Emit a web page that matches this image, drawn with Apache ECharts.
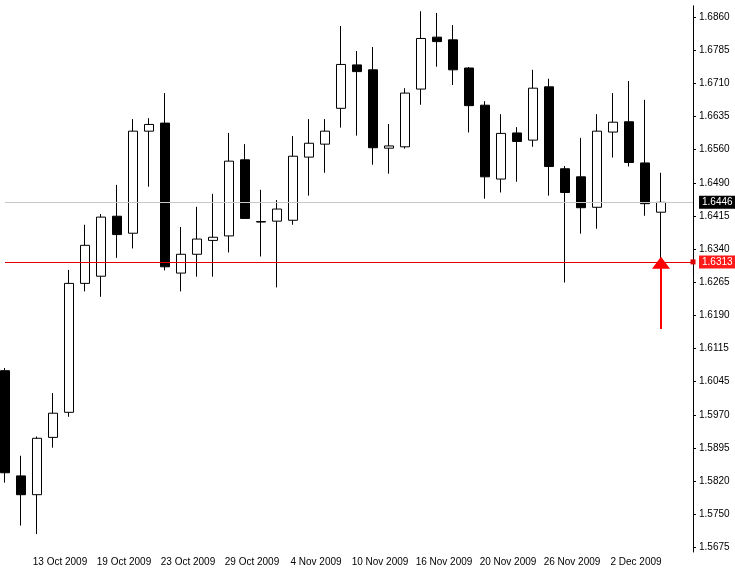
<!DOCTYPE html>
<html><head><meta charset="utf-8">
<script src="https://cdn.jsdelivr.net/npm/echarts@6/dist/echarts.min.js"></script>
<style>html,body{margin:0;padding:0;background:#fff}#c{width:735px;height:571px}</style>
</head><body><div id="c"></div>
<script>
const dates = ['8 Oct 2009','9 Oct 2009','12 Oct 2009','13 Oct 2009','14 Oct 2009','15 Oct 2009','16 Oct 2009','19 Oct 2009','20 Oct 2009','21 Oct 2009','22 Oct 2009','23 Oct 2009','26 Oct 2009','27 Oct 2009','28 Oct 2009','29 Oct 2009','30 Oct 2009','2 Nov 2009','3 Nov 2009','4 Nov 2009','5 Nov 2009','6 Nov 2009','9 Nov 2009','10 Nov 2009','11 Nov 2009','12 Nov 2009','13 Nov 2009','16 Nov 2009','17 Nov 2009','18 Nov 2009','19 Nov 2009','20 Nov 2009','23 Nov 2009','24 Nov 2009','25 Nov 2009','26 Nov 2009','27 Nov 2009','30 Nov 2009','1 Dec 2009','2 Dec 2009','3 Dec 2009','4 Dec 2009','',' '];
const opens  = [1.6070,1.5835,1.5793,1.5921,1.5977,1.6265,1.6281,1.6415,1.6377,1.6605,1.6623,1.6288,1.6330,1.6361,1.6371,1.6541,1.6403,1.6404,1.6406,1.6547,1.6576,1.6656,1.6753,1.6742,1.6567,1.6570,1.6699,1.6815,1.6809,1.6746,1.6663,1.6498,1.6601,1.6585,1.6704,1.6521,1.6503,1.6435,1.6603,1.6626,1.6534,1.6424];
const closes = [1.5842,1.5793,1.5919,1.5975,1.6265,1.6350,1.6413,1.6374,1.6605,1.6620,1.6302,1.6330,1.6364,1.6368,1.6538,1.6410,1.6402,1.6431,1.6549,1.6578,1.6605,1.6754,1.6738,1.6568,1.6572,1.6690,1.6812,1.6805,1.6742,1.6662,1.6503,1.6600,1.6582,1.6701,1.6526,1.6468,1.6434,1.6605,1.6625,1.6535,1.6443,1.6446];
const lows   = [1.5820,1.5724,1.5705,1.5898,1.5967,1.6247,1.6235,1.6322,1.6343,1.6481,1.6294,1.6247,1.6280,1.6280,1.6334,1.6410,1.6325,1.6256,1.6396,1.6461,1.6512,1.6613,1.6595,1.6530,1.6510,1.6566,1.6664,1.6749,1.6708,1.6602,1.6454,1.6468,1.6492,1.6570,1.6461,1.6267,1.6376,1.6387,1.6546,1.6526,1.6416,1.6313];
const highs  = [1.6076,1.5880,1.5923,1.6020,1.6295,1.6396,1.6420,1.6485,1.6632,1.6634,1.6690,1.6391,1.6436,1.6465,1.6601,1.6576,1.6474,1.6451,1.6594,1.6632,1.6632,1.6840,1.6784,1.6793,1.6621,1.6701,1.6873,1.6869,1.6842,1.6748,1.6672,1.6643,1.6614,1.6742,1.6722,1.6527,1.6590,1.6643,1.6690,1.6717,1.6675,1.6512];
const tickLabels = ['1.5675','1.5750','1.5820','1.5895','1.5970','1.6045','1.6115','1.6190','1.6265','1.6340','1.6415','1.6490','1.6560','1.6635','1.6710','1.6785','1.6860'];
const bidPrice = 1.6446, lowPrice = 1.6313, arrowFrom = 1.6163;

const tickMin = +tickLabels[0], tickMax = +tickLabels[tickLabels.length-1];
const step = (tickMax - tickMin) / (tickLabels.length - 1);
const tickPos = tickLabels.map((_, i) => tickMin + i * step);
const candles = opens.map((o, i) => [o, closes[i], lows[i], highs[i]]);
const FONT = 'Liberation Sans';
const first = dates[0], last = dates[dates.length - 1];
const tagLabel = (txt, bg) => ({show: true, position: 'end', formatter: txt, color: '#fff', backgroundColor: bg, padding: [2,3,1,3], fontFamily: FONT, fontSize: 10, distance: 6});
const hLine = (v, color, bg, endSym) => [
  {coord: [first, v], symbol: 'none', lineStyle: {color: color, width: 1, type: 'solid'}, label: tagLabel(v.toFixed(4), bg)},
  {coord: [last, v], symbol: endSym, symbolSize: 5}
];

const chart = echarts.init(document.getElementById('c'));
chart.setOption({
  animation: false,
  grid: {left: 5, right: 42, top: 5.8, bottom: 19},
  xAxis: {
    type: 'category', data: dates, boundaryGap: false,
    axisLine: {show: false}, axisTick: {show: false}, splitLine: {show: false},
    axisLabel: {interval: (i) => i % 4 === 3 && i < 42, color: '#000', fontFamily: FONT, fontSize: 10, margin: 5, padding: [0,0,0,14]}
  },
  yAxis: {
    type: 'value', position: 'right', min: 1.5665, max: 1.6885, scale: true,
    axisLine: {show: true, lineStyle: {color: '#000'}},
    axisTick: {show: true, length: 3, customValues: tickPos, lineStyle: {color: '#000'}},
    splitLine: {show: false},
    axisLabel: {customValues: tickPos, color: '#000', fontFamily: FONT, fontSize: 10, margin: 6,
      formatter: (v) => { let k = 0, d = 1; tickPos.forEach((p, i) => { if (Math.abs(p - v) < d) { d = Math.abs(p - v); k = i; } }); return tickLabels[k]; }}
  },
  series: [
    {type: 'line', data: [], silent: true,
     markLine: {silent: true, animation: false, data: [hLine(bidPrice, '#c8c8c8', '#000', 'none'), hLine(lowPrice, '#e00000', '#ff1a1a', 'rect')]}},
    {type: 'candlestick', data: candles, barWidth: 10,
     itemStyle: {color: '#fff', color0: '#000', borderColor: '#000', borderColor0: '#000', borderWidth: 1}},
    {type: 'line', data: [], silent: true,
     markLine: {silent: true, animation: false,
       data: [[{coord: [dates[41], arrowFrom], symbol: 'none', lineStyle: {color: '#ff0000', width: 2, type: 'solid'}, label: {show: false}},
               {coord: [dates[41], lowPrice - 0.0002], symbol: 'triangle', symbolSize: [18, 12]}]]}}
  ]
});
</script></body></html>
